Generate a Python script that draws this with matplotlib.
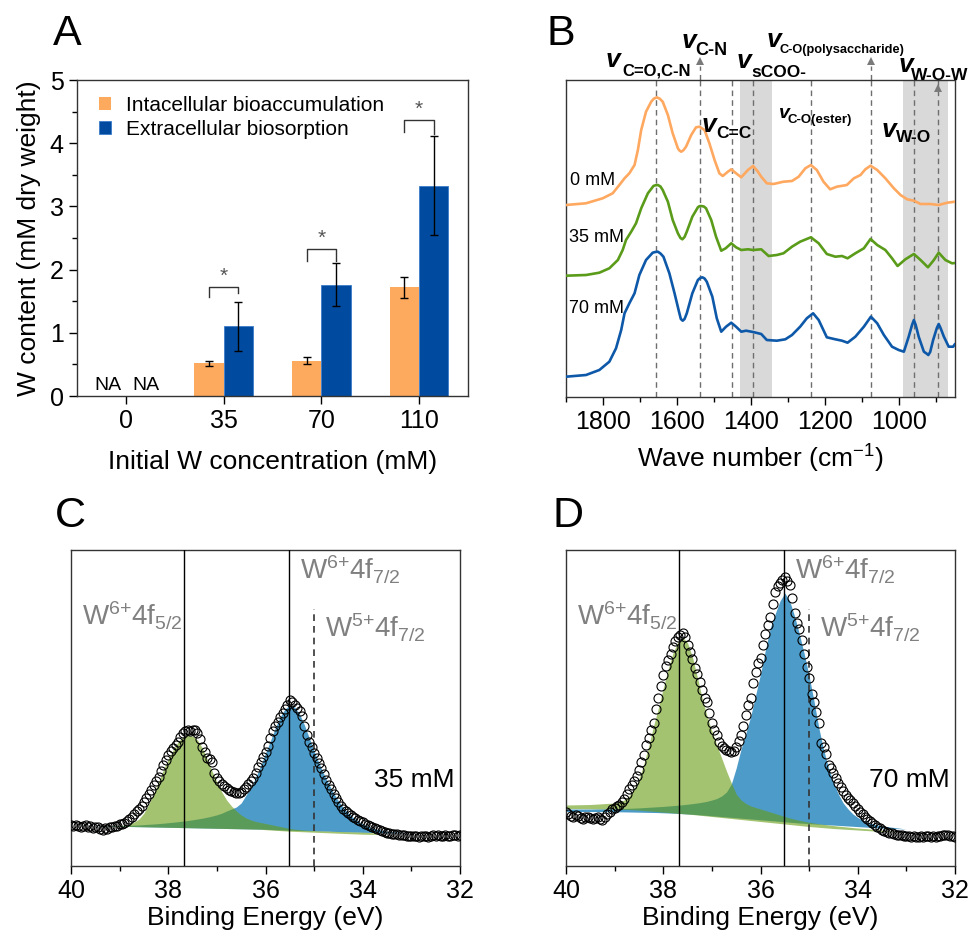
import matplotlib.pyplot as plt
import numpy as np
from matplotlib.ticker import MultipleLocator

plt.rcParams['font.family'] = ['Liberation Sans', 'DejaVu Sans']
plt.rcParams['mathtext.fontset'] = 'custom'
plt.rcParams['mathtext.rm'] = 'Liberation Sans'
plt.rcParams['mathtext.it'] = 'Liberation Sans:italic'
plt.rcParams['mathtext.bf'] = 'Liberation Sans:bold'
plt.rcParams['axes.edgecolor'] = '#333333'

# ---------------- Panel A data ----------------
conc_labels = ['0', '35', '70', '110']
intra = [np.nan, 0.52, 0.56, 1.72]
intra_err = [np.nan, 0.04, 0.05, 0.165]
extra = [np.nan, 1.10, 1.76, 3.33]
extra_err = [np.nan, 0.39, 0.34, 0.78]
bracket_top = [1.73, 2.32, 4.36]
bracket_left = [1.56, 2.14, 4.17]
bracket_right = [1.63, 2.14, 4.15]

# ---------------- Panel B data (FTIR, arbitrary offsets) ----------------
wn_orange = [1900, 1846, 1801, 1774, 1756, 1742, 1729, 1715, 1706, 1697,
             1684, 1670, 1663, 1655, 1647, 1639, 1625, 1612, 1598, 1594, 1589, 1583,
             1576, 1562, 1549, 1540, 1526, 1513, 1499, 1486, 1477, 1463, 1454, 1441,
             1427, 1409, 1395, 1382, 1373, 1358, 1340, 1313, 1290, 1272,
             1254, 1239, 1223, 1205, 1187, 1169, 1142, 1123, 1105, 1092,
             1078, 1060, 1038, 1015, 997, 979, 961, 943, 916, 894, 871, 850]
y_orange = [192, 193.7, 198.7, 203.7, 212, 218.7, 223.7, 232, 247, 267,
            285.3, 295.3, 298.3, 299.7, 298.3, 295.3, 282, 263.7, 248.7, 246.5, 245.3, 246.8,
            250.3, 262, 269.7, 270.3, 267, 253.7, 237, 223.7, 221, 225.3, 227.7, 223.7,
            219.7, 227, 231, 225.3, 220.3, 213.7, 213, 215.3, 216, 220.3,
            228.7, 232, 227, 215.3, 207.7, 210.3, 212, 218.7, 222, 227.7,
            231.3, 227, 218.7, 208.7, 202, 197.7, 196.3, 193, 193, 192, 194.3, 195.3]

wn_green = [1900, 1846, 1810, 1783, 1760, 1747, 1738, 1724, 1711, 1697,
            1679, 1664, 1659, 1652, 1645, 1639, 1625, 1612, 1598, 1591, 1586, 1580, 1574, 1559,
            1544, 1540, 1535, 1528, 1522, 1508, 1495, 1481, 1469, 1454, 1441, 1427,
            1409, 1395, 1373, 1353, 1331, 1313, 1290, 1268, 1239, 1218,
            1196, 1173, 1155, 1140, 1119, 1096, 1078, 1060, 1038, 1020,
            1005, 984, 961, 943, 923, 907, 894, 876, 858, 850]
y_green = [121.3, 122, 124.3, 128.7, 137, 147, 157, 165.3, 173.7, 188.7,
           203.7, 211, 211.7, 212, 210.5, 207, 195.3, 177, 163.7, 159, 157.7, 160, 165.3, 180.3,
           189.7, 190.8, 191, 190.5, 188.7, 177, 160.3, 146.3, 148.7, 153.7, 149.7, 147,
           147.7, 147, 147.7, 141, 142, 143.7, 150.3, 155.3, 159.7, 153.7,
           143, 140.3, 141, 138.7, 143.7, 148.7, 158, 152, 147, 138.7,
           131, 137.7, 143, 137, 129.7, 137, 144.3, 137, 133.7, 134]

wn_blue = [1900, 1846, 1810, 1783, 1765, 1751, 1742, 1729, 1715, 1702,
           1684, 1666, 1659, 1652, 1645, 1637, 1621, 1607, 1595, 1590, 1585, 1580, 1574, 1559,
           1544, 1538, 1532, 1526, 1520, 1505, 1493, 1481, 1468, 1454, 1441, 1427,
           1414, 1395, 1373, 1358, 1331, 1308, 1290, 1268, 1250, 1233,
           1218, 1196, 1173, 1155, 1140, 1119, 1096, 1077, 1060, 1042,
           1020, 1002, 988, 975, 966, 961, 956, 948, 934, 927, 922, 917, 909, 899, 894, 889,
           880, 867, 855, 850]
y_blue = [20.3, 22, 27, 35.3, 48.7, 67, 83.7, 93.7, 103.7, 122,
          137, 144.3, 145, 145.3, 143.5, 140.3, 123.7, 103.7, 85.3, 78, 76.3, 78, 83.7, 103.7,
          117, 119, 119.7, 118.5, 115.3, 100.3, 78.7, 65.3, 70.3, 74.3, 70.3, 65.3,
          66.3, 65, 63, 57, 56.3, 57.7, 62, 70.3, 78.7, 83.7,
          77, 59.7, 57.7, 56.3, 54.3, 60.3, 70.3, 80.3, 73.7, 62,
          50.3, 47, 45.3, 60.3, 72, 77, 72, 60.3, 45.3, 43.5, 42, 45, 57, 69, 73, 69,
          60.3, 50.3, 50.3, 53]

band_lines = [1656, 1538, 1453, 1395, 1238, 1076, 961, 895]
gray_bands = [(1430, 1345), (990, 868)]

# ---------------- Panels C/D data (XPS W4f) ----------------
xps_energy = [40.0, 39.95, 39.9, 39.85, 39.8, 39.75, 39.7, 39.65, 39.6, 39.55,
              39.5, 39.45, 39.4, 39.35, 39.3, 39.25, 39.2, 39.15, 39.1, 39.05,
              39.0, 38.95, 38.9, 38.85, 38.8, 38.75, 38.7, 38.65, 38.6, 38.55,
              38.5, 38.45, 38.4, 38.35, 38.3, 38.25, 38.2, 38.15, 38.1, 38.05,
              38.0, 37.95, 37.9, 37.85, 37.8, 37.75, 37.7, 37.65, 37.6, 37.55,
              37.5, 37.45, 37.4, 37.35, 37.3, 37.25, 37.2, 37.15, 37.1, 37.05,
              37.0, 36.95, 36.9, 36.85, 36.8, 36.75, 36.7, 36.65, 36.6, 36.55,
              36.5, 36.45, 36.4, 36.35, 36.3, 36.25, 36.2, 36.15, 36.1, 36.05,
              36.0, 35.95, 35.9, 35.85, 35.8, 35.75, 35.7, 35.65, 35.6, 35.55,
              35.5, 35.45, 35.4, 35.35, 35.3, 35.25, 35.2, 35.15, 35.1, 35.05,
              35.0, 34.95, 34.9, 34.85, 34.8, 34.75, 34.7, 34.65, 34.6, 34.55,
              34.5, 34.45, 34.4, 34.35, 34.3, 34.25, 34.2, 34.15, 34.1, 34.05,
              34.0, 33.95, 33.9, 33.85, 33.8, 33.75, 33.7, 33.65, 33.6, 33.55,
              33.5, 33.45, 33.4, 33.35, 33.3, 33.25, 33.2, 33.15, 33.1, 33.05,
              33.0, 32.95, 32.9, 32.85, 32.8, 32.75, 32.7, 32.65, 32.6, 32.55,
              32.5, 32.45, 32.4, 32.35, 32.3, 32.25, 32.2, 32.15, 32.1, 32.05,
              32.0]
xps_35 = [41, 40, 41.5, 40, 39, 40.5, 41, 39.5, 40, 38.5,
          39.5, 39, 37.5, 36.5, 38, 37.5, 39, 39.5, 40.5, 40,
          42, 42.5, 43.5, 45, 47, 49.5, 52.5, 55, 57.5, 60.5,
          64, 68, 72.5, 76, 81, 85, 89, 95, 101, 106,
          111, 115, 118, 121, 124, 129, 133, 135, 136, 135.5,
          136.5, 136, 133, 127, 119, 114, 108, 107, 104, 93,
          88, 85, 82, 80, 78, 76.5, 75.5, 74.5, 73.5, 73,
          74.5, 77, 79.5, 82, 85, 88, 93, 99, 104, 109,
          114, 120, 128, 135, 140, 144, 149, 153, 157, 161,
          166, 164, 161, 158, 155, 150, 140, 131, 124, 119,
          113, 108, 103, 98, 92, 86, 81, 77, 72, 68,
          64, 60, 57.5, 55, 53, 51, 49.5, 48, 46.5, 45,
          44, 42.5, 41, 40, 39, 38, 37, 36, 35, 34.5,
          33.5, 33, 32.5, 32, 32, 31.5, 31, 31, 30.5, 30.5,
          30, 30.5, 30, 29.5, 30, 30.5, 30, 29.5, 30.5, 31,
          30.5, 31, 30, 30.5, 31, 30, 30.5, 31.5, 31, 30.5,
          31]
xps_70 = [54, 52, 50, 49, 51, 50.5, 48.5, 47.5, 49, 49.5,
          48, 47.5, 48.5, 49.5, 47.5, 46.5, 49, 52, 54.5, 57,
          58.5, 60, 61.5, 64, 67.5, 72, 77, 81.5, 85, 90.5,
          96, 104, 111, 121, 128, 136, 143, 157, 168, 180,
          191, 200, 206, 212, 219, 225, 229, 231, 233, 229,
          221, 214, 207, 198, 192, 184, 176, 168, 164, 153,
          143, 136, 131, 124, 120, 118, 116.5, 115, 114.5, 115.5,
          119, 125, 131, 140, 151, 161, 168, 183, 194, 203,
          208, 221, 232, 241, 249, 262, 274, 280, 283, 286,
          289, 285, 281, 268, 253, 243, 237, 226, 212, 199,
          188, 172, 164, 154, 143, 123, 119, 112, 101, 98,
          93, 88, 83, 79, 75, 71, 68, 66, 63, 60,
          57, 54, 52, 49.5, 47.5, 45.5, 43.5, 41.5, 39.5, 38,
          36.5, 35.5, 34.5, 33.5, 33, 32.5, 31.5, 31, 31, 30.5,
          30.5, 30, 29.5, 30, 29.5, 29.5, 30, 29.5, 30, 30.5,
          29.5, 30, 29.5, 30, 30.5, 31, 31.5, 31, 30.5, 30,
          29.5]

fit_e = [40.0, 39.5, 39.0, 38.9, 38.8, 38.7, 38.6, 38.5, 38.4, 38.3,
         38.2, 38.1, 38.0, 37.9, 37.8, 37.7, 37.6, 37.5, 37.4, 37.3,
         37.2, 37.1, 37.0, 36.9, 36.8, 36.7, 36.6, 36.5, 36.4, 36.3,
         36.2, 36.1, 36.0, 35.9, 35.8, 35.7, 35.6, 35.5, 35.4, 35.3,
         35.2, 35.1, 35.0, 34.9, 34.8, 34.7, 34.6, 34.5, 34.4, 34.3,
         34.2, 34.1, 34.0, 33.9, 33.8, 33.7, 33.6, 33.5, 33.0, 32.5, 32.0]

c_blue_base = [40.5, 40.0, 39.7, 39.6, 39.5, 39.4, 39.3, 39.2, 39.1, 39.0,
               38.9, 38.8, 38.7, 38.6, 38.5, 38.4, 38.3, 38.2, 38.1, 38.0,
               37.9, 37.8, 37.7, 37.6, 37.5, 37.4, 37.3, 37.2, 37.1, 37.0,
               36.9, 36.8, 36.7, 36.5, 36.3, 36.1, 35.9, 35.7, 35.6, 35.5,
               35.4, 35.3, 35.2, 35.0, 34.9, 34.8, 34.6, 34.5, 34.3, 34.2,
               34.0, 33.9, 33.7, 33.6, 33.5, 33.4, 33.3, 33.2, 33.0, 32.8, 32.6]
c_blue_top = [40.5, 40.2, 40.5, 40.6, 40.7, 40.9, 41.1, 41.4, 41.7, 42.0,
              42.4, 42.8, 43.3, 43.8, 44.3, 44.9, 45.5, 46.2, 47.0, 47.8,
              48.8, 49.9, 51.2, 52.8, 55, 57, 59, 63, 71, 78,
              89, 100, 113, 125, 138, 149, 157, 161, 159, 152,
              141, 128, 115, 103, 92, 82, 73, 65, 58.5, 53,
              48.5, 45, 42, 39.8, 38, 36.6, 35.5, 34.6, 33.0, 32.8, 32.6]
c_green_base = [40.5, 40.0, 39.7, 39.6, 39.5, 39.4, 39.3, 39.2, 39.1, 39.0,
                38.9, 38.8, 38.7, 38.6, 38.5, 38.4, 38.3, 38.2, 38.1, 38.0,
                37.9, 37.8, 37.7, 37.6, 37.5, 37.4, 37.3, 37.2, 37.1, 37.0,
                36.9, 36.8, 36.3, 36.0, 35.7, 35.4, 35.1, 34.8, 34.6, 34.4,
                34.2, 34.0, 33.8, 33.6, 33.4, 33.2, 33.0, 32.8, 32.6, 32.4,
                32.2, 32.0, 31.8, 31.7, 31.6, 31.8, 32.2, 32.6, 32.6, 32.5, 32.4]
c_green_top = [40.5, 40.0, 40.5, 41.0, 42.0, 44.0, 47.0, 53, 62, 73,
               84, 96, 107, 116, 124, 129, 131, 130, 126, 118,
               107, 95, 84, 74, 66, 60, 55, 51, 48, 46,
               44.5, 43.5, 42.5, 41.5, 40.5, 39.5, 38.5, 37.5, 36.8, 36.3,
               35.9, 35.6, 35.4, 35.2, 35.0, 34.9, 34.7, 34.6, 34.4, 34.3,
               34.1, 34.0, 33.8, 33.6, 33.2, 32.5, 32.2, 32.6, 32.6, 32.5, 32.4]

d_blue_base = [54.5, 54.5, 54.3, 54.2, 54.1, 54.0, 53.9, 53.8, 53.7, 53.6,
               53.5, 53.4, 53.2, 53.0, 52.8, 52.6, 52.3, 52.0, 51.7, 51.4,
               51.0, 50.6, 50.2, 49.8, 49.4, 49.0, 48.6, 48.2, 47.8, 47.4,
               47.0, 46.6, 46.2, 45.8, 45.4, 45.0, 44.6, 44.2, 43.8, 43.4,
               43.0, 42.7, 42.4, 42.1, 41.8, 41.5, 41.2, 40.9, 40.6, 40.3,
               40.0, 39.7, 39.4, 39.1, 38.8, 38.5, 38.2, 37.9, 37.0, 36.5, 36.0]
d_blue_top = [57.0, 57.0, 57.3, 57.4, 57.5, 57.7, 57.9, 58.1, 58.4, 58.7,
              59.0, 59.3, 59.6, 60.0, 60.4, 60.8, 61.3, 61.8, 62.4, 63.0,
              63.8, 64.7, 66, 67.5, 70, 74, 82, 98, 117, 133,
              150, 171, 192, 216, 238, 252, 265, 273, 265, 250,
              232, 212, 190, 165, 138, 116, 98, 84, 72, 63,
              57, 52, 48.5, 46, 44, 42.3, 41, 40, 37.0, 36.5, 36.0]
d_green_base = [57.5, 57.3, 57.0, 56.9, 56.7, 56.5, 56.2, 55.9, 55.5, 55.1,
                54.7, 54.3, 53.9, 53.5, 53.1, 52.7, 52.3, 51.9, 51.5, 51.0,
                50.5, 50.0, 49.5, 49.0, 48.5, 48.0, 47.5, 47.0, 46.5, 46.0,
                45.5, 45.0, 44.5, 44.0, 43.5, 43.0, 42.5, 42.0, 41.5, 41.0,
                40.5, 40.0, 39.5, 39.1, 38.7, 38.3, 37.9, 37.5, 37.2, 36.9,
                36.6, 36.3, 36.0, 35.7, 35.4, 35.1, 34.8, 34.5, 34.0, 34.0, 34.0]
d_green_top = [61, 61.5, 63, 64, 66, 70, 77, 87, 102, 120,
               140, 158, 178, 197, 213, 224, 229, 223, 209, 189,
               168, 150, 135, 121, 108, 95, 83, 72, 66, 62.5,
               60, 58.5, 57, 55.5, 54, 52.5, 51, 49.5, 48, 46.8,
               45.7, 44.7, 43.8, 43.0, 42.3, 41.6, 41.0, 40.4, 39.9, 39.4,
               38.9, 38.4, 38.0, 37.6, 37.2, 36.7, 36.2, 35.7, 34.0, 34.0, 34.0]

W_IMG, H_IMG = 968, 934
fig = plt.figure(figsize=(9.68, 9.34), dpi=100)


def axes_px(left, top, right, bottom):
    return fig.add_axes([left / W_IMG, 1 - bottom / H_IMG,
                         (right - left) / W_IMG, (bottom - top) / H_IMG])


def ftext(px, py, s, **kw):
    return fig.text(px / W_IMG, 1 - py / H_IMG, s, **kw)


def style_spines(ax):
    for sp in ax.spines.values():
        sp.set_linewidth(1.0)
        sp.set_color('#333333')


# ================= Panel A =================
axA = axes_px(77, 80, 468, 396)
x = np.arange(len(conc_labels))
w = 0.3
ekw = dict(ecolor='black', elinewidth=1, capthick=1)
axA.bar(x - w / 2, intra, w, color='#FEAA5E', yerr=intra_err, capsize=3,
        error_kw=ekw, label='Intacellular bioaccumulation')
axA.bar(x + w / 2, extra, w, color='#004BA0', edgecolor='#3A7CC8', linewidth=0.6,
        yerr=extra_err, capsize=3, error_kw=ekw, label='Extracellular biosorption')
for i in range(3):
    xi = x[i + 1]
    axA.plot([xi - w / 2, xi - w / 2, xi + w / 2, xi + w / 2],
             [bracket_left[i], bracket_top[i], bracket_top[i], bracket_right[i]],
             color='#333333', lw=1)
    axA.text(xi, bracket_top[i] + 0.02, '*', ha='center', va='bottom',
             fontsize=15, color='#555555')
axA.text(-0.18, 0.1, 'NA', ha='center', va='baseline', fontsize=14)
axA.text(0.21, 0.1, 'NA', ha='center', va='baseline', fontsize=14)
axA.set_xlim(-0.5, 3.5)
axA.set_ylim(0, 5)
axA.set_xticks(x)
axA.set_xticklabels(conc_labels)
axA.set_yticks([0, 1, 2, 3, 4, 5])
axA.yaxis.set_minor_locator(MultipleLocator(0.5))
axA.tick_params(which='major', direction='out', length=6, width=1, labelsize=18)
axA.tick_params(which='minor', direction='out', length=3.5, width=1)
axA.set_xlabel('Initial W concentration (mM)', fontsize=19, labelpad=12)
axA.set_ylabel('W content (mM dry weight)', fontsize=19, labelpad=6)
axA.legend(loc='upper left', bbox_to_anchor=(0.055, 0.95), frameon=False,
           fontsize=15, handlelength=0.6, handleheight=0.6, handletextpad=0.7,
           labelspacing=0.25, borderaxespad=0, borderpad=0)
style_spines(axA)

# ================= Panel B =================
axB = axes_px(566, 80, 955, 397)
for lo, hi in gray_bands:
    axB.axvspan(lo, hi, color='#D9D9D9', lw=0, zorder=0)
for b in band_lines:
    axB.axvline(b, color='#6E6E6E', lw=1, ls=(0, (4, 3)), zorder=1)
line_kw = dict(lw=1.9, zorder=3, solid_joinstyle='round', solid_capstyle='round')
axB.plot(wn_orange, y_orange, color='#FFA860', **line_kw)
axB.plot(wn_green, y_green, color='#5A9C1A', **line_kw)
axB.plot(wn_blue, y_blue, color='#0D58A8', **line_kw)
axB.set_xlim(1900, 850)
axB.set_ylim(0, 317)
trB = axB.get_xaxis_transform()
for b in [1538, 1076]:
    axB.plot([b, b], [1.0, 1.045], color='#6E6E6E', lw=1, ls=(0, (4, 3)),
             transform=trB, clip_on=False)
    axB.plot([b], [1.06], marker='^', ms=6, color='#7A7A7A', mew=0,
             transform=trB, clip_on=False)
axB.plot([895], [0.975], marker='^', ms=6, color='#7A7A7A', mew=0,
         transform=trB, clip_on=False, zorder=4)
axB.set_xticks([1800, 1600, 1400, 1200, 1000])
axB.xaxis.set_minor_locator(MultipleLocator(100))
axB.set_yticks([])
axB.tick_params(which='major', direction='out', length=6, width=1, labelsize=18)
axB.tick_params(which='minor', direction='out', length=3.5, width=1)
axB.set_xlabel('Wave number (cm$^{-1}$)', fontsize=19, labelpad=6)
style_spines(axB)

axB.text(0.01, 0.67, '0 mM', transform=axB.transAxes, fontsize=13)
axB.text(0.007, 0.49, '35 mM', transform=axB.transAxes, fontsize=13)
axB.text(0.007, 0.265, '70 mM', transform=axB.transAxes, fontsize=13)

# vibration labels: (subscript, v_x, v_y, sub_x, sub_y, v size, sub size)
vib_labels = [
    ('C=O,C-N', 606, 67, 622, 75, 19, 12),
    ('C-N', 682, 48, 695, 55, 19, 13),
    ('sCOO-', 737, 68, 751, 77, 19, 12.5),
    ('C-O(polysaccharide)', 767, 47, 780, 53, 19, 9.2),
    ('W-O-W', 899, 72, 911, 80, 19, 12.5),
    ('C=C', 702, 132, 716, 138, 19, 12.5),
    ('C-O(ester)', 779, 118, 788, 123, 14, 9.5),
    ('W-O', 882, 137, 896, 142, 19, 12.5),
]
for sub, vx, vy, sx, sy, vs, ss in vib_labels:
    ftext(vx, vy, 'v', fontsize=vs, fontweight='bold', fontstyle='italic',
          va='baseline', ha='left')
    ftext(sx, sy, sub, fontsize=ss, fontweight='bold', va='baseline', ha='left')

# ================= Panels C & D =================
blue_fill = '#4D9BC8'
green_fill = '#669B11'


def xps_panel(ax, counts, g_base, g_top, b_base, b_top, tag):
    ax.fill_between(fit_e, b_base, b_top, color=blue_fill, lw=0, zorder=1)
    ax.fill_between(fit_e, g_base, g_top, color=green_fill, alpha=0.6, lw=0, zorder=2)
    ax.axvline(37.67, color='black', lw=1, zorder=3)
    ax.axvline(35.51, color='black', lw=1, zorder=3)
    ax.plot([35.0, 35.0], [0, 0.813], color='#333333', lw=1.2, ls=(0, (4, 3)),
            transform=ax.get_xaxis_transform(), zorder=3)
    ax.plot(xps_energy, counts, ls='none', marker='o', ms=6.5, mfc='none',
            mec='black', mew=0.8, zorder=4)
    ax.set_xlim(40, 32)
    ax.set_ylim(0, 316)
    ax.set_xticks([40, 38, 36, 34, 32])
    ax.xaxis.set_minor_locator(MultipleLocator(1))
    ax.set_yticks([])
    ax.tick_params(which='major', direction='out', length=6, width=1, labelsize=18)
    ax.tick_params(which='minor', direction='out', length=3.5, width=1)
    ax.set_xlabel('Binding Energy (eV)', fontsize=19, labelpad=2)
    ax.text(0.987, 0.25, tag, transform=ax.transAxes, ha='right', va='baseline',
            fontsize=19)
    style_spines(ax)


axC = axes_px(71, 550, 460, 866)
xps_panel(axC, xps_35, c_green_base, c_green_top, c_blue_base, c_blue_top, '35 mM')
axD = axes_px(566, 550, 955, 866)
xps_panel(axD, xps_70, d_green_base, d_green_top, d_blue_base, d_blue_top, '70 mM')

lab_gray = '#808080'
for dx in (0, 495):
    ftext(82 + dx, 625, r'W$^{\text{6+}}$4f$_{\text{5/2}}$', fontsize=20,
          color=lab_gray, va='baseline')
    ftext(300 + dx, 580, r'W$^{\text{6+}}$4f$_{\text{7/2}}$', fontsize=20,
          color=lab_gray, va='baseline')
    ftext(325 + dx, 638, r'W$^{\text{5+}}$4f$_{\text{7/2}}$', fontsize=20,
          color=lab_gray, va='baseline')

# panel letters
ftext(53, 45, 'A', fontsize=31, va='baseline')
ftext(547, 45, 'B', fontsize=31, va='baseline')
ftext(55, 527, 'C', fontsize=31, va='baseline')
ftext(552, 527, 'D', fontsize=31, va='baseline')

fig.savefig('out.png', dpi=100)
